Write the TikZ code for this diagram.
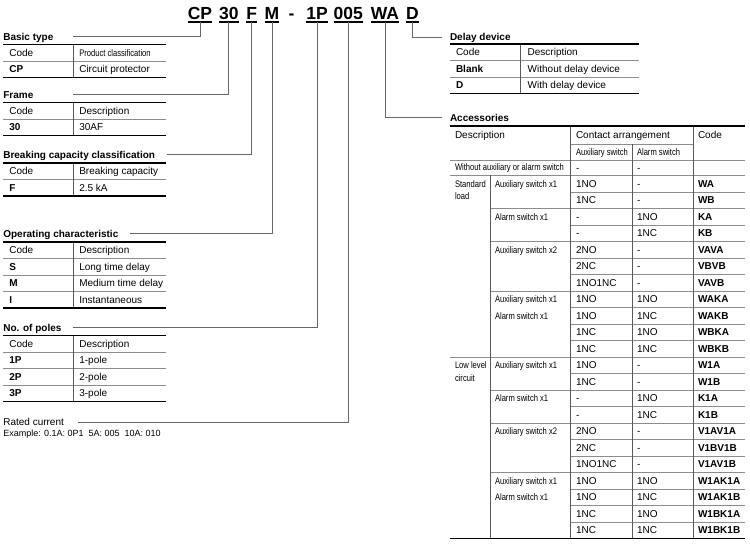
\documentclass[tikz,border=0pt]{standalone}
\usepackage{fontspec}
\setmainfont{Liberation Sans}
\newfontfamily\narrowfont[FakeStretch=0.8]{Liberation Sans}
\newcommand\nar{\narrowfont\fontsize{9.5}{11}\selectfont}
\newcommand\rg{\fontsize{10}{12}\selectfont}
\newcommand\LT[4]{%
  \foreach \ca/\da [count=\i] in {#4} {
    \pgfmathsetmacro\yy{#2+(\i-0.5)*16.5+3.6}
    \node[t] (#1c\i) at (9.3,\yy) {\ca};
    \node[t] (#1d\i) at (79.3,\yy) {\da};
  }
  \pgfmathtruncatemacro\nm{#3-1}
  \foreach \i in {1,...,\nm} {\draw[thinl] (3,{#2+\i*16.5}) -- (166,{#2+\i*16.5});}
  \draw[vl] (73,#2) -- (73,{#2+#3*16.5});
  \draw[thickl] (3,#2) -- (166,#2);
  \draw[thickl] (3,{#2+#3*16.5}) -- (166,{#2+#3*16.5});
}
\begin{document}
\begin{tikzpicture}[x=1pt,y=-1pt,
  every node/.style={inner sep=0pt, outer sep=0pt, font=\rg},
  t/.style={anchor=base west},
  thinl/.style={draw=black!45, line width=0.8pt},
  vl/.style={draw=black!65, line width=0.8pt},
  thickl/.style={draw=black, line width=1.5pt},
  conn/.style={draw=black!60, line width=1pt},
  ul/.style={draw=black, line width=2pt},
  code/.style={anchor=base, font=\fontsize{17.5}{20}\selectfont\bfseries},
  lbl/.style={anchor=base west, font=\rg\bfseries}]
\useasboundingbox (0,0) rectangle (750,545);

% ---- top type code
\foreach \n/\x/\s in {kCP/200/CP, k30/228.8/30, kF/251.7/F, kM/272/M, k1P/317/1P, k005/348.3/005, kWA/385/WA, kD/412.5/D} {
  \node[code] (\n) at (\x,19.3) {\s};
  \draw[ul] ([yshift=-2.7pt]\n.base west) -- ([yshift=-2.7pt]\n.base east);
}
\node[code] (kdash) at (291.5,19.3) {-};

% ---- connector ends
\coordinate (eBasic) at (73,36.5);
\coordinate (eFrame) at (73,95);
\coordinate (eBreak) at (167,155);
\coordinate (eOper) at (130,233.5);
\coordinate (ePoles) at (73,328);
\coordinate (eRated) at (78,422);
\coordinate (eDelay) at (442,38);
\coordinate (eAcc) at (442,118);

\draw[conn] ([yshift=-2.7pt]kCP.base) |- (eBasic);
\draw[conn] ([yshift=-2.7pt]k30.base) |- (eFrame);
\draw[conn] ([yshift=-2.7pt]kF.base) |- (eBreak);
\draw[conn] ([yshift=-2.7pt]kM.base) |- (eOper);
\draw[conn] ([yshift=-2.7pt]k1P.base) |- (ePoles);
\draw[conn] ([yshift=-2.7pt]k005.base) |- (eRated);
\draw[conn] ([yshift=-2.7pt]kD.base) |- (eDelay);
\draw[conn] ([yshift=-2.7pt]kWA.base) |- (eAcc);

% ---- left tables
\node[lbl] (lBasic) at (3.3,40.6) {Basic type};
\LT{bt}{44.5}{2}{{Code}/{\nar Product classification}, {\bfseries CP}/{Circuit protector}}

\node[lbl] (lFrame) at (3.3,98.5) {Frame};
\LT{fr}{102.5}{2}{{Code}/{Description}, {\bfseries 30}/{30AF}}

\node[lbl] (lBreak) at (3.3,159) {Breaking capacity classification};
\LT{bc}{163}{2}{{Code}/{Breaking capacity}, {\bfseries F}/{2.5 kA}}

\node[lbl] (lOper) at (3.3,237.6) {Operating characteristic};
\LT{oc}{242}{4}{{Code}/{Description}, {\bfseries S}/{Long time delay}, {\bfseries M}/{Medium time delay}, {\bfseries I}/{Instantaneous}}

\node[lbl] (lPoles) at (3.3,331.6) {No. of poles};
\LT{np}{335.5}{4}{{Code}/{Description}, {\bfseries 1P}/{1-pole}, {\bfseries 2P}/{2-pole}, {\bfseries 3P}/{3-pole}}

\node[t] (lRated) at (3.3,425.6) {Rated current};
\node[t, font=\fontsize{9}{11}\selectfont] (lEx) at (3.3,436.5) {Example: 0.1A: 0P1\ \ 5A: 005\ \ 10A: 010};

% ---- delay device
\node[lbl] (lDelay) at (450,40.6) {Delay device};
\foreach \ca/\da [count=\i] in {{Code}/{Description}, {\bfseries Blank}/{Without delay device}, {\bfseries D}/{With delay device}} {
  \pgfmathsetmacro\yy{44+(\i-0.5)*16.5+3.6}
  \node[t] (dd\i c) at (456,\yy) {\ca};
  \node[t] (dd\i d) at (527.7,\yy) {\da};
}
\draw[thinl] (450,60.5) -- (639,60.5);
\draw[thinl] (450,77) -- (639,77);
\draw[vl] (520,44) -- (520,93.5);
\draw[thickl] (450,44) -- (639,44);
\draw[thickl] (450,93.5) -- (639,93.5);

% ---- accessories
\def\rt{175.5}
\def\rh{16.5}
\node[lbl] (lAcc) at (450,121.6) {Accessories};
\node[t] (hDesc) at (455,138.6) {Description};
\node[t] (hCont) at (576,138.6) {Contact arrangement};
\node[t] (hCode) at (698,138.6) {Code};
\node[t, font=\nar] (hAux) at (576,155.2) {Auxiliary switch};
\node[t, font=\nar] (hAlm) at (637,155.2) {Alarm switch};
\node[t, font=\nar] (wDesc) at (455,171) {Without auxiliary or alarm switch};
\node[t] (wA) at (576,171.2) {-};
\node[t] (wB) at (637,171.2) {-};

\foreach \a/\b/\k [count=\i from 0] in {1NO/-/WA, 1NC/-/WB, -/1NO/KA, -/1NC/KB, 2NO/-/VAVA, 2NC/-/VBVB, 1NO1NC/-/VAVB, 1NO/1NO/WAKA, 1NO/1NC/WAKB, 1NC/1NO/WBKA, 1NC/1NC/WBKB, 1NO/-/W1A, 1NC/-/W1B, -/1NO/K1A, -/1NC/K1B, 2NO/-/V1AV1A, 2NC/-/V1BV1B, 1NO1NC/-/V1AV1B, 1NO/1NO/W1AK1A, 1NO/1NC/W1AK1B, 1NC/1NO/W1BK1A, 1NC/1NC/W1BK1B} {
  \pgfmathsetmacro\yy{\rt+(\i+0.5)*\rh+3.6}
  \node[t] (aA\i) at (576,\yy) {\a};
  \node[t] (aB\i) at (637,\yy) {\b};
  \node[t, font=\rg\bfseries] (aK\i) at (698,\yy) {\k};
}
\foreach \r/\txt in {0/Auxiliary switch x1, 2/Alarm switch x1, 4/Auxiliary switch x2, 7/Auxiliary switch x1, 8/Alarm switch x1, 11/Auxiliary switch x1, 13/Alarm switch x1, 15/Auxiliary switch x2, 18/Auxiliary switch x1, 19/Alarm switch x1} {
  \pgfmathsetmacro\yy{\rt+(\r+0.5)*\rh+3.4}
  \node[t, font=\nar] (sd\r) at (495,\yy) {\txt};
}
\pgfmathsetmacro\ya{\rt+0.5*\rh+3.4}
\pgfmathsetmacro\yb{\ya+12.5}
\pgfmathsetmacro\yc{\rt+11.5*\rh+3.4}
\pgfmathsetmacro\yd{\yc+12.5}
\node[t, font=\nar] (gS1) at (455,\ya) {Standard};
\node[t, font=\nar] (gS2) at (455,\yb) {load};
\node[t, font=\nar] (gL1) at (455,\yc) {Low level};
\node[t, font=\nar] (gL2) at (455,\yd) {circuit};

\foreach \r/\xs in {1/570,2/490,3/570,4/490,5/570,6/570,7/490,8/570,9/570,10/570,11/450,12/570,13/490,14/570,15/490,16/570,17/570,18/490,19/570,20/570,21/570}
  \draw[thinl] (\xs,{\rt+\r*\rh}) -- (745,{\rt+\r*\rh});
\pgfmathsetmacro\yend{\rt+22*\rh}
\draw[thinl] (570,144) -- (693,144);
\draw[thinl] (450,160) -- (745,160);
\draw[thinl] (450,\rt) -- (745,\rt);
\draw[vl] (570,126) -- (570,\yend);
\draw[vl] (693,126) -- (693,\yend);
\draw[vl] (632,144) -- (632,\yend);
\draw[vl] (490,\rt) -- (490,\yend);
\draw[thickl] (450,126) -- (745,126);
\draw[thickl] (450,\yend) -- (745,\yend);
\end{tikzpicture}
\end{document}
